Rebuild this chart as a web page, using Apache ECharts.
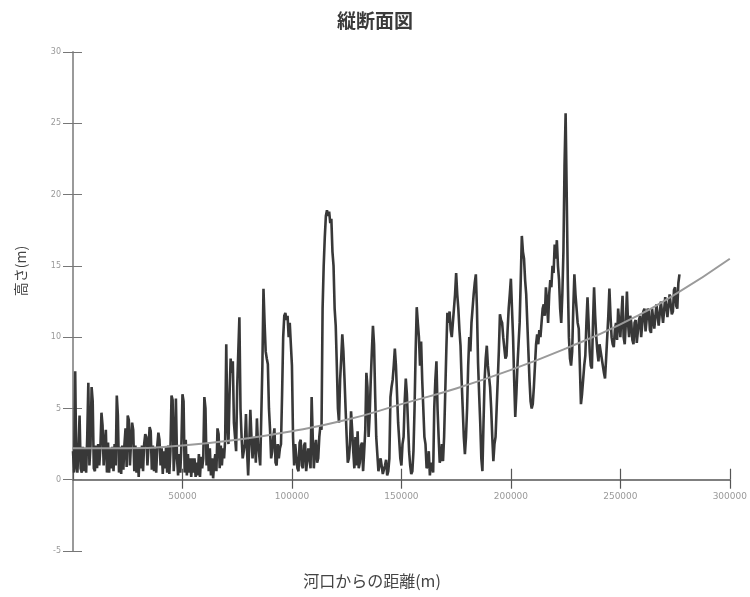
<!DOCTYPE html>
<html>
<head>
<meta charset="utf-8">
<script src="https://cdn.jsdelivr.net/npm/echarts@6/dist/echarts.min.js"></script>
<style>html,body{margin:0;padding:0;background:#fff;}#c{width:750px;height:597px;}</style>
</head>
<body>
<div id="c"></div>
<script>
// distance step between profile samples (m)
var profileStep = 500;
// river bed height (m) every 500 m from the river mouth (one row = 5000 m)
var heights = [
2.0,0.5,7.6,1.0,0.5,2.2,4.5,0.8,0.5,2.3,
0.6,2.2,0.5,3.0,6.8,1.0,2.4,6.5,5.5,0.8,
0.6,2.4,0.8,2.5,1.0,2.2,4.7,3.8,1.0,2.5,
3.5,0.5,2.6,0.5,2.2,0.8,2.3,0.6,2.5,1.0,
5.9,4.5,0.5,2.3,0.4,2.4,0.7,2.5,3.6,0.9,
4.5,4.2,1.0,2.6,4.0,3.5,0.6,2.4,0.5,2.2,
0.2,2.2,0.8,2.4,0.6,2.5,3.2,3.0,1.0,2.3,
3.7,3.4,0.7,2.4,0.6,2.2,0.5,2.4,3.3,2.8,
1.0,2.2,0.4,2.0,0.8,2.3,0.5,2.4,0.4,2.0,
5.9,5.6,0.6,2.0,5.7,1.5,0.3,1.8,0.5,2.4,
6.0,5.5,0.5,2.8,0.3,1.8,0.5,1.5,0.2,1.5,
0.5,1.5,0.2,1.2,0.3,1.8,0.2,1.6,0.8,1.5,
5.8,5.0,1.0,2.5,0.6,2.2,0.3,1.5,0.1,1.2,
1.8,0.6,3.6,3.2,0.8,2.4,1.0,2.2,1.5,2.8,
9.5,4.0,2.5,6.0,8.5,7.5,8.3,4.0,3.0,2.0,
6.5,9.0,11.4,5.0,3.0,1.5,1.5,2.5,4.6,2.0,
0.3,2.5,4.9,3.0,1.5,2.8,3.0,1.2,4.3,2.5,
1.8,1.0,1.0,8.0,13.4,11.0,9.0,8.5,8.1,5.0,
3.5,1.5,2.0,3.0,3.6,1.2,1.0,2.5,1.5,2.2,
2.5,6.0,10.0,11.5,11.7,11.2,11.5,10.0,11.0,9.5,
8.0,3.0,1.0,2.5,2.5,0.8,0.6,2.6,2.8,1.0,
0.8,2.4,2.6,0.6,0.5,2.2,2.2,0.8,5.8,3.0,
0.8,2.2,2.8,1.2,1.5,3.0,3.8,3.5,12.0,15.0,
17.0,18.5,18.9,18.5,18.8,18.0,18.3,16.0,15.0,12.0,
10.8,8.0,5.0,4.0,7.0,8.5,10.2,9.0,7.1,5.0,
3.0,1.2,1.5,2.5,4.8,3.5,2.0,0.8,3.0,1.0,
3.4,0.8,1.2,2.4,2.6,0.6,2.0,3.5,7.5,6.5,
3.0,4.5,7.0,9.0,10.8,9.5,6.0,3.0,1.8,0.6,
0.5,1.5,1.5,0.4,0.3,1.0,1.4,0.3,0.6,1.5,
5.8,6.5,7.0,8.0,9.2,8.0,6.0,4.0,2.8,1.5,
1.0,2.5,3.0,5.5,7.1,6.0,4.0,2.0,1.0,0.4,
0.6,2.0,5.0,9.0,12.1,11.0,10.0,8.0,9.7,7.0,
5.0,3.0,2.5,0.8,1.0,2.0,0.3,1.2,1.0,0.5,
5.0,7.0,8.3,5.0,3.0,1.2,1.5,2.5,1.3,3.0,
6.0,9.0,11.7,11.0,11.8,10.5,10.0,11.0,12.0,13.0,
14.5,13.0,12.0,10.5,9.4,7.0,5.0,3.0,1.8,3.0,
5.0,8.0,10.0,9.0,11.0,12.0,13.0,13.8,14.4,12.0,
8.2,6.0,4.0,1.5,0.6,4.0,7.0,8.5,9.4,8.0,
8.0,6.5,5.0,3.0,1.3,2.5,3.0,5.0,7.0,9.0,
11.6,11.2,11.0,10.0,10.0,8.5,8.7,10.5,12.0,13.0,
14.1,12.0,10.0,7.0,4.4,6.0,8.0,9.5,11.0,14.0,
17.1,16.0,15.5,14.0,13.0,11.0,9.0,7.0,5.5,5.0,
5.3,6.5,8.0,9.5,10.2,9.5,10.5,10.0,11.0,12.0,
12.3,11.5,13.5,12.5,11.0,13.0,14.0,13.5,15.0,14.5,
16.5,15.5,16.8,15.0,14.0,12.0,11.0,13.0,16.0,22.0,
25.7,20.0,14.0,10.0,8.5,8.0,9.0,12.0,14.4,13.0,
12.0,11.0,10.6,8.0,5.3,6.0,7.0,8.0,8.7,11.0,
12.8,11.0,9.0,8.0,7.8,11.0,13.5,11.5,10.0,9.0,
8.3,9.5,9.0,8.5,8.0,7.5,7.1,8.5,10.0,11.5,
13.4,11.5,10.0,9.5,9.3,10.5,11.0,9.8,12.0,11.0,
10.0,11.5,12.9,10.0,9.5,11.0,13.2,11.0,10.0,11.5,
11.0,9.8,9.5,11.0,11.2,9.6,9.5,11.2,11.5,10.0,
10.0,11.8,12.0,10.4,10.5,12.0,11.8,10.5,10.3,12.0,
12.0,10.6,10.5,12.3,12.2,10.8,10.8,12.5,12.5,11.0,
11.0,12.8,12.8,11.4,11.5,13.0,13.0,11.6,11.8,13.3,
13.5,12.2,12.0,13.8,14.4
];
// smooth trend curve: distances (m) and heights (m)
var trendDist = [0,25000,50000,75000,100000,125000,150000,175000,200000,225000,250000,275000,300000];
var trendHeight = [2.2,2.2,2.4,2.8,3.4,4.2,5.3,6.4,7.7,9.2,10.9,13.0,15.5];

var titleText = '縦断面図';
var xName = '河口からの距離(m)';
var yName = '高さ(m)';

var yMin = -5, yMax = 30;
var gridTop = 52, gridBottom = 46, chartH = 597;
var gridH = chartH - gridTop - gridBottom;
var zeroOffset = -gridH * (0 - yMin) / (yMax - yMin);

var profileData = heights.map(function (h, i) { return [i * profileStep, h]; });
var trendData = trendDist.map(function (d, i) { return [d, trendHeight[i]]; });

var chart = echarts.init(document.getElementById('c'), null, {renderer: 'canvas'});
chart.setOption({
  animation: false,
  backgroundColor: '#ffffff',
  title: {
    text: titleText, left: 'center', top: 6,
    textStyle: {fontSize: 19, fontWeight: 'bold', color: '#3a3a3a', fontFamily: 'Noto Sans CJK JP'}
  },
  grid: {left: 73, right: 17, top: gridTop, bottom: gridBottom, containLabel: false},
  xAxis: [{
    type: 'value', min: 0, max: 300000, interval: 50000, offset: zeroOffset,
    axisLine: {show: true, onZero: false, lineStyle: {color: '#555', width: 1.5}},
    axisTick: {show: true, length: 9, lineStyle: {color: '#555', width: 1.2}},
    axisLabel: {showMinLabel: false, margin: 12, color: '#999', fontSize: 9, fontFamily: 'DejaVu Sans',
      formatter: function (v) { return v === 0 ? '' : String(v); }},
    splitLine: {show: false}
  }, {
    type: 'value', min: 0, max: 300000, interval: 50000, position: 'bottom', offset: zeroOffset,
    axisLine: {show: false, onZero: false},
    axisTick: {show: true, inside: true, length: 11, lineStyle: {color: '#555', width: 1.2}},
    axisLabel: {show: false}, splitLine: {show: false}
  }],
  yAxis: [{
    type: 'value', min: yMin, max: yMax, interval: 5,
    axisLine: {show: true, onZero: false, lineStyle: {color: '#9a9a9a', width: 2}},
    axisTick: {show: true, length: 10, lineStyle: {color: '#777', width: 1}},
    axisLabel: {margin: 12, color: '#999', fontSize: 8, fontFamily: 'DejaVu Sans'},
    splitLine: {show: false}
  }, {
    type: 'value', min: yMin, max: yMax, interval: 5, position: 'left',
    axisLine: {show: false, onZero: false},
    axisTick: {show: true, inside: true, length: 9, lineStyle: {color: '#777', width: 1}},
    axisLabel: {show: false}, splitLine: {show: false}
  }],
  graphic: [{
    type: 'text', x: 372, y: 581,
    style: {text: xName, fill: '#444', font: '16px "Noto Sans CJK JP"', align: 'center', verticalAlign: 'middle'}
  }, {
    type: 'text', x: 21, y: 271, rotation: Math.PI / 2,
    style: {text: yName, fill: '#444', font: '14px "Noto Sans CJK JP"', align: 'center', verticalAlign: 'middle'}
  }],
  series: [{
    type: 'line', xAxisIndex: 0, yAxisIndex: 0, data: profileData,
    showSymbol: false, symbol: 'none',
    lineStyle: {color: '#383838', width: 2.6, join: 'miter', miterLimit: 2}, z: 3
  }, {
    type: 'line', xAxisIndex: 0, yAxisIndex: 0, data: trendData,
    showSymbol: false, symbol: 'none', smooth: true,
    lineStyle: {color: '#9a9a9a', width: 2}, z: 4
  }]
});
</script>
</body>
</html>
